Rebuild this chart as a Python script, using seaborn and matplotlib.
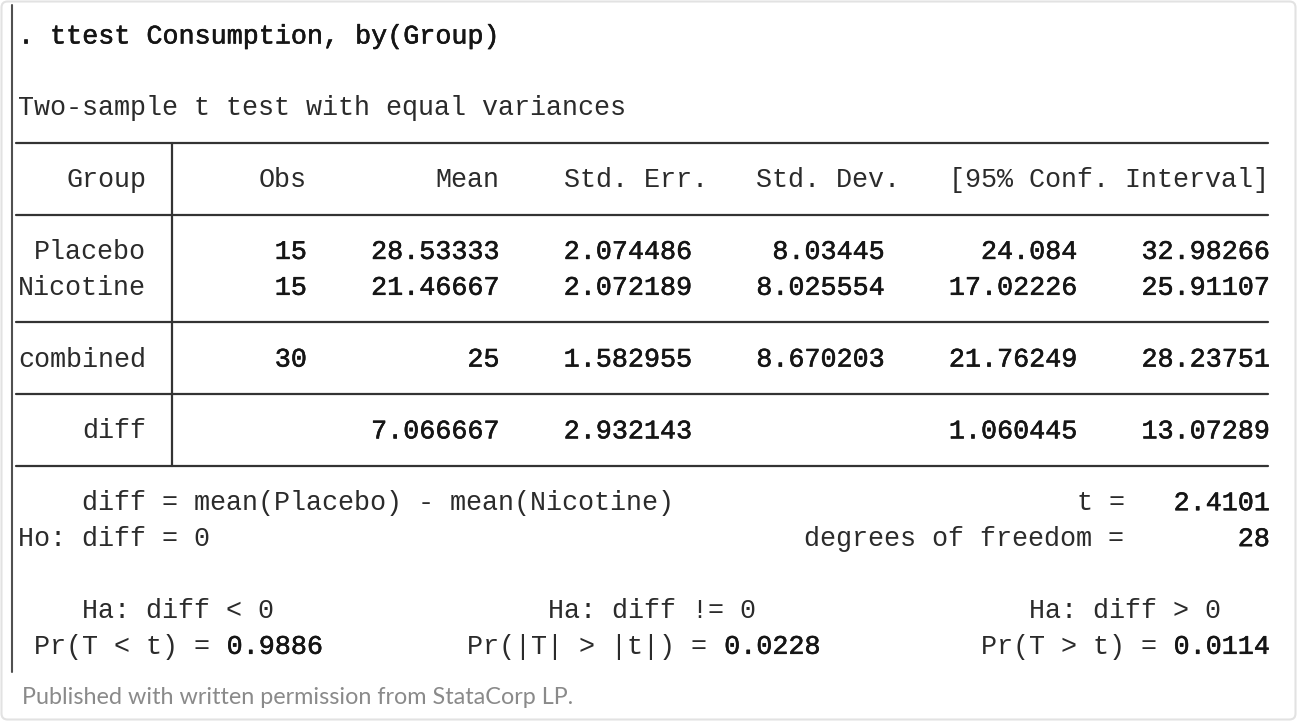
import matplotlib
matplotlib.use("Agg")
import matplotlib.pyplot as plt
import matplotlib.patheffects as pe
import seaborn as sns
from matplotlib.patches import FancyBboxPatch

# ---- contenido de la salida de Stata ----
command = ". ttest Consumption, by(Group)"
title = "Two-sample t test with equal variances"
col_headers = ["Group", "Obs", "Mean", "Std. Err.", "Std. Dev.", "[95% Conf. Interval]"]
header_end = [8, 18, 30, 43, 55, 78]
value_end = [18, 30, 42, 54, 66, 78]

groups = ["Placebo", "Nicotine", "combined", "diff"]
group_rows = [6, 7, 9, 11]
obs = [15, 15, 30, None]
means = [28.53333, 21.46667, 25, 7.066667]
std_err = [2.074486, 2.072189, 1.582955, 2.932143]
std_dev = [8.03445, 8.025554, 8.670203, None]
ci_low = [24.084, 17.02226, 21.76249, 1.060445]
ci_high = [32.98266, 25.91107, 28.23751, 13.07289]

diff_def = "diff = mean(Placebo) - mean(Nicotine)"
null_hyp = "Ho: diff = 0"
t_stat = 2.4101
dof = 28
alternatives = ["Ha: diff < 0", "Ha: diff != 0", "Ha: diff > 0"]
alt_cols = [4, 33, 63]
prob_labels = ["Pr(T < t) = ", "Pr(|T| > |t|) = ", "Pr(T > t) = "]
prob_cols = [1, 28, 60]
p_values = [0.9886, 0.0228, 0.0114]

caption = "Published with written permission from StataCorp LP."

# ---- geometria ----
W, H = 1302, 722
X0, CW = 16, 16.05
Y0, RH = 36.5, 35.9
FS = CW / 0.6 * 72 / 100

sns.set_theme(style="white")
plt.rcParams["font.family"] = ["Liberation Mono", "DejaVu Sans Mono"]

fig = plt.figure(figsize=(W / 100, H / 100), dpi=100)
ax = fig.add_axes([0, 0, 1, 1])
ax.set_xlim(0, W)
ax.set_ylim(H, 0)
ax.axis("off")


def cx(c):
    return X0 + c * CW


def ry(r):
    return Y0 + r * RH


def put(col, row, s, bold=False):
    # los resultados de Stata salen algo mas gruesos: trazo fino encima
    color = "#151515" if bold else "#2b2b2b"
    effects = [pe.withStroke(linewidth=0.4, foreground=color)] if bold else []
    ax.text(cx(col) + 2, ry(row), s, fontsize=FS, va="center", ha="left",
            color=color, path_effects=effects)


def put_right(end, row, s, bold=False):
    put(end - len(s), row, s, bold)


def fmt(v):
    return "" if v is None else f"{v:.7g}"


# marco de la tarjeta
card = FancyBboxPatch((1.5, 1.5), W - 8, H - 4, boxstyle="round,pad=0,rounding_size=6",
                      fc="white", ec="#e2e2e2", lw=1.5, zorder=0)
ax.add_patch(card)
ax.plot([12, 12], [5, 672], color="#505050", lw=1.5)

# texto
put(0, 0, command, bold=True)
put(0, 2, title)
for h, e in zip(col_headers, header_end):
    put_right(e, 4, h)

columns = [obs, means, std_err, std_dev, ci_low, ci_high]
for i, (g, r) in enumerate(zip(groups, group_rows)):
    put_right(8, r, g)
    for vals, e in zip(columns, value_end):
        put_right(e, r, fmt(vals[i]), bold=True)

put(4, 13, diff_def)
put(66, 13, "t =")
put_right(78, 13, f"{t_stat:.4f}", bold=True)
put(0, 14, null_hyp)
put(49, 14, "degrees of freedom =")
put_right(78, 14, str(dof), bold=True)

for a, c in zip(alternatives, alt_cols):
    put(c, 16, a)
for lab, c, p in zip(prob_labels, prob_cols, p_values):
    put(c, 17, lab)
    put(c + len(lab), 17, f"{p:.4f}", bold=True)

# reglas de la tabla
rule = dict(color="#333333", lw=1.6)
for r in [3, 5, 8, 10, 12]:
    ax.plot([cx(0), cx(78)], [ry(r) - 1.5, ry(r) - 1.5], **rule)
ax.plot([cx(9.7), cx(9.7)], [ry(3) - 1.5, ry(12) - 1.5], **rule)

ax.text(22, 697, caption, fontsize=16.8, family="Lato", color="#8a8a8a",
        va="center", ha="left")

fig.savefig("out.png", dpi=100)
